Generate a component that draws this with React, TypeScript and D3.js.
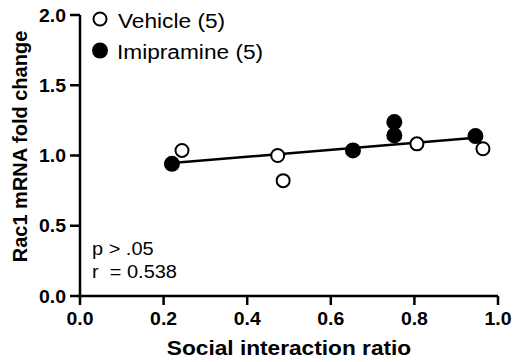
import React from "react";
import * as d3 from "d3";

const vehicleX = [0.244, 0.473, 0.486, 0.806, 0.964];
const vehicleY = [1.036, 1.0, 0.821, 1.083, 1.048];
const imipramineX = [0.22, 0.653, 0.752, 0.752, 0.946];
const imipramineY = [0.941, 1.036, 1.238, 1.143, 1.138];
const xTicks = [0, 0.2, 0.4, 0.6, 0.8, 1.0];
const yTicks = [0, 0.5, 1.0, 1.5, 2.0];
const legendLabels = ["Vehicle (5)", "Imipramine (5)"];
const statLines = ["p > .05", "r  = 0.538"];
const fitRange = [0.22, 0.946];

const FONT = "'Liberation Sans', Arial, Helvetica, sans-serif";
const SX = 1.08;

function T({ x, y, size, bold, anchor, children }: any) {
  return (
    <text
      transform={`translate(${x},${y}) scale(${SX},1)`}
      fontFamily={FONT}
      fontSize={size}
      fontWeight={bold ? "bold" : "normal"}
      textAnchor={anchor || "start"}
      fill="#000"
      xmlSpace="preserve"
      style={{ whiteSpace: "pre" }}
    >
      {children}
    </text>
  );
}

export default function App() {
  const x = d3.scaleLinear().domain([0, 1]).range([80, 498]);
  const y = d3.scaleLinear().domain([0, 2]).range([296, 15]);

  const allX = [...vehicleX, ...imipramineX];
  const allY = [...vehicleY, ...imipramineY];
  const mx = d3.mean(allX)!;
  const my = d3.mean(allY)!;
  let sxy = 0, sxx = 0;
  allX.forEach((v, i) => {
    sxy += (v - mx) * (allY[i] - my);
    sxx += (v - mx) * (v - mx);
  });
  const slope = sxy / sxx;
  const icpt = my - slope * mx;
  const fitLine = d3
    .line<number>()
    .x((d) => x(d))
    .y((d) => y(icpt + slope * d));

  const vehicle = vehicleX.map((v, i) => [v, vehicleY[i]]);
  const imip = imipramineX.map((v, i) => [v, imipramineY[i]]);

  return (
    <svg
      width={515}
      height={362}
      style={{ position: "absolute", left: 0, top: 0, background: "#fff" }}
    >
      <rect width={515} height={362} fill="#fff" />
      {/* axes */}
      <line x1={x(0)} x2={x(0)} y1={y(2)} y2={y(0)} stroke="#000" strokeWidth={2.5} />
      <line x1={x(0) - 1.25} x2={x(1)} y1={y(0)} y2={y(0)} stroke="#000" strokeWidth={2.5} />
      {yTicks.map((t) => (
        <g key={"y" + t}>
          <line x1={x(0) - 10} x2={x(0)} y1={y(t)} y2={y(t)} stroke="#000" strokeWidth={2.5} />
          <T x={x(0) - 14} y={y(t) + 6.5} size={18} bold anchor="end">
            {d3.format(".1f")(t)}
          </T>
        </g>
      ))}
      {xTicks.map((t) => (
        <g key={"x" + t}>
          <line x1={x(t)} x2={x(t)} y1={y(0)} y2={y(0) + 9} stroke="#000" strokeWidth={2.5} />
          <T x={x(t)} y={325} size={18} bold anchor="middle">
            {d3.format(".1f")(t)}
          </T>
        </g>
      ))}
      <T x={(x(0) + x(1)) / 2} y={355} size={21} bold anchor="middle">
        Social interaction ratio
      </T>
      <text
        transform={`translate(27,146.5) rotate(-90)`}
        fontFamily={FONT}
        fontSize={20}
        fontWeight="bold"
        textAnchor="middle"
      >
        Rac1 mRNA fold change
      </text>

      {/* fit line */}
      <path d={fitLine(fitRange) || ""} stroke="#000" strokeWidth={2.5} fill="none" />

      {/* points */}
      {vehicle.map((d, i) => (
        <circle key={"v" + i} cx={x(d[0])} cy={y(d[1])} r={6.5} fill="#fff" stroke="#000" strokeWidth={2} />
      ))}
      {imip.map((d, i) => (
        <circle key={"i" + i} cx={x(d[0])} cy={y(d[1])} r={8} fill="#000" />
      ))}

      {/* legend */}
      <circle cx={100} cy={19} r={6.5} fill="#fff" stroke="#000" strokeWidth={2} />
      <T x={118} y={28} size={21}>{legendLabels[0]}</T>
      <circle cx={100} cy={50.5} r={8} fill="#000" />
      <T x={117} y={59} size={21}>{legendLabels[1]}</T>

      {/* stats */}
      <T x={92} y={255} size={18.5}>{statLines[0]}</T>
      <T x={92} y={277.5} size={18.5}>{statLines[1]}</T>
    </svg>
  );
}
